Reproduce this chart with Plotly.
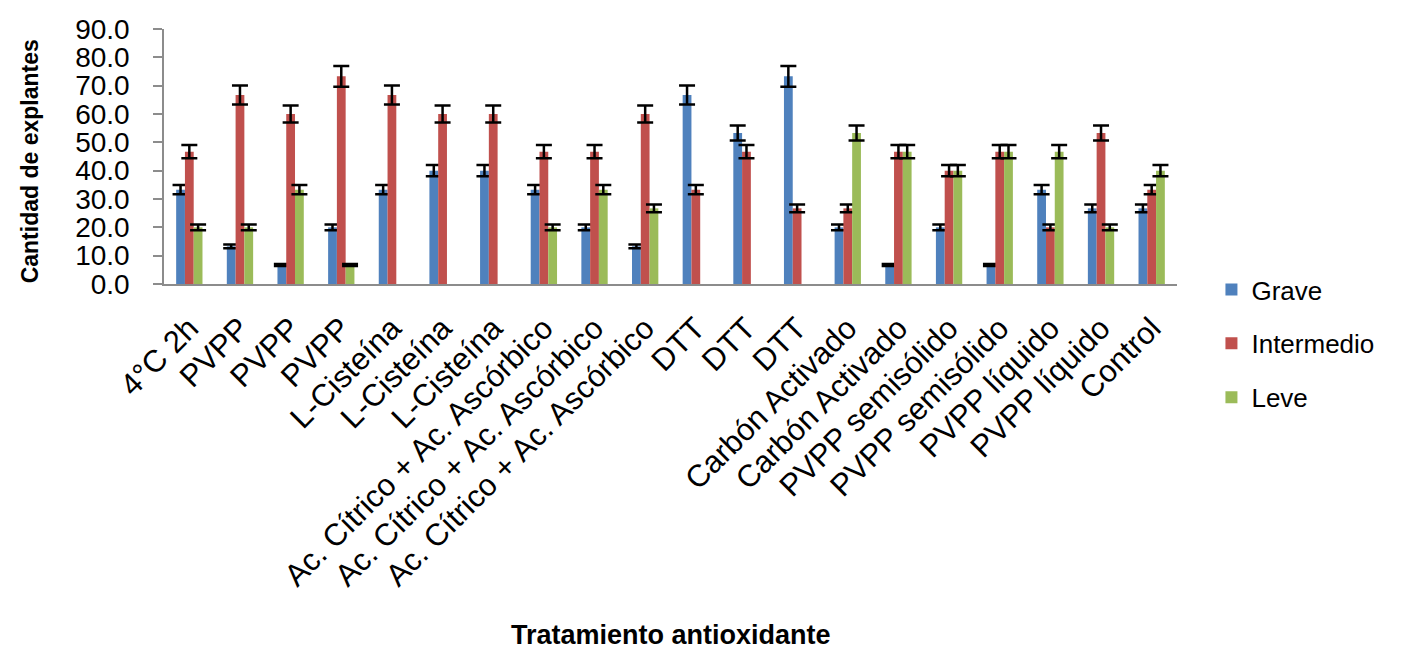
import plotly.graph_objects as go

categories = ["4°C 2h", "PVPP", "PVPP", "PVPP", "L-Cisteína", "L-Cisteína", "L-Cisteína",
              "Ac. Cítrico + Ac. Ascórbico", "Ac. Cítrico + Ac. Ascórbico", "Ac. Cítrico + Ac. Ascórbico",
              "DTT", "DTT", "DTT", "Carbón Activado", "Carbón Activado",
              "PVPP semisólido", "PVPP semisólido", "PVPP líquido", "PVPP líquido", "Control"]
grave = [33.3, 13.3, 6.7, 20.0, 33.3, 40.0, 40.0, 33.3, 20.0, 13.3,
         66.7, 53.3, 73.3, 20.0, 6.7, 20.0, 6.7, 33.3, 26.7, 26.7]
intermedio = [46.7, 66.7, 60.0, 73.3, 66.7, 60.0, 60.0, 46.7, 46.7, 60.0,
              33.3, 46.7, 26.7, 26.7, 46.7, 40.0, 46.7, 20.0, 53.3, 33.3]
leve = [20.0, 20.0, 33.3, 6.7, 0, 0, 0, 20.0, 33.3, 26.7,
        0, 0, 0, 53.3, 46.7, 40.0, 46.7, 46.7, 20.0, 40.0]
error_pct = 5
series_names = ["Grave", "Intermedio", "Leve"]
colors = ["#4F81BD", "#C0504D", "#9BBB59"]

x = list(range(len(categories)))
fig = go.Figure()
for name, vals, col in zip(series_names, [grave, intermedio, leve], colors):
    fig.add_trace(go.Bar(
        x=x, y=[v if v else None for v in vals], name=name,
        marker_color=col, marker_line_width=0, legendgroup=name,
        error_y=dict(type="percent", value=error_pct, color="black", thickness=2.5, width=8),
    ))

font = "Liberation Sans, Arial, sans-serif"
fig.update_layout(
    width=1411, height=650,
    margin=dict(l=156, r=242, t=21, b=374),
    paper_bgcolor="white", plot_bgcolor="white",
    barmode="group", bargap=0.48, bargroupgap=0,
    font=dict(family=font, size=24, color="black"),
    showlegend=True,
    legend=dict(x=1.034, y=0.07, xanchor="left", yanchor="top",
                traceorder="grouped", tracegroupgap=17,
                font=dict(size=26, family=font)),
    xaxis=dict(
        tickmode="array", tickvals=x, ticktext=categories, tickangle=-45,
        range=[-0.5, len(categories) - 0.5],
        showline=True, linecolor="#8c8c8c", linewidth=1.5, ticks="",
        ticklabelstandoff=12,
        showgrid=False, zeroline=False, automargin=False,
        tickfont=dict(size=31, family=font),
    ),
    yaxis=dict(
        range=[0, 90], dtick=10, tickformat=".1f",
        showline=True, linecolor="#8c8c8c", linewidth=1.5,
        ticks="outside", ticklen=9, tickcolor="#8c8c8c", tickwidth=1.5,
        ticklabelstandoff=18,
        showgrid=False, zeroline=False, automargin=False,
        tickfont=dict(size=28, family=font),
    ),
    annotations=[
        dict(text="<b>Tratamiento antioxidante</b>", xref="paper", yref="paper",
             x=0.5, y=-1.375, xanchor="center", yanchor="middle", showarrow=False,
             font=dict(size=27, family=font)),
        dict(text="<b>Cantidad de explantes</b>", xref="paper", yref="paper",
             x=-0.132, y=0.482, xanchor="center", yanchor="middle", showarrow=False,
             textangle=-90, font=dict(size=23, family=font)),
    ],
)
fig.write_html("out.html")
